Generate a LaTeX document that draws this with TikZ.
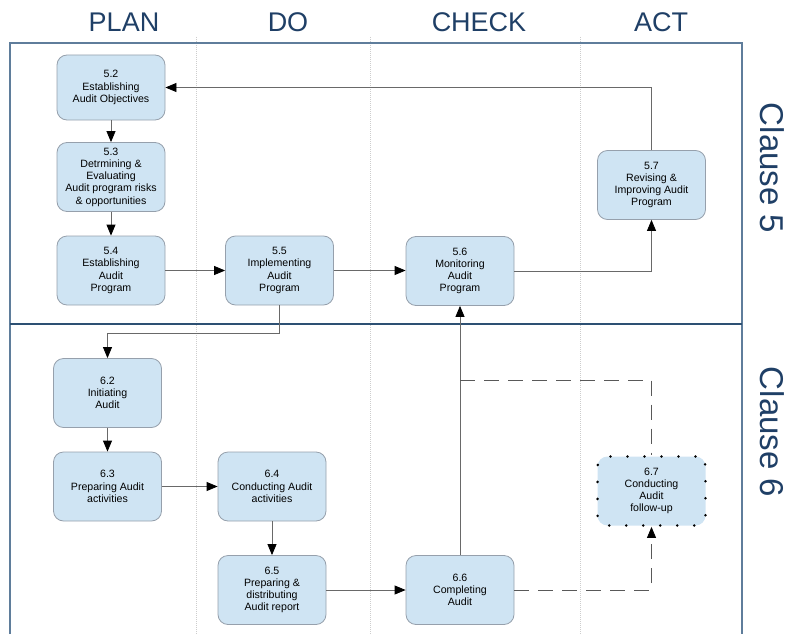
\documentclass[tikz,border=0pt]{standalone}
\usepackage{fontspec}
\setmainfont{Liberation Sans}
\usetikzlibrary{arrows.meta}
\definecolor{boxfill}{RGB}{207,228,243}
\definecolor{boxline}{RGB}{150,160,172}
\definecolor{headblue}{RGB}{31,63,102}
\definecolor{frameblue}{RGB}{95,125,155}
\definecolor{divblue}{RGB}{45,80,115}
\definecolor{lanegray}{RGB}{205,205,205}
\definecolor{wire}{RGB}{105,105,105}
\tikzset{
  stepbox/.style={rectangle, rounded corners=10pt, fill=boxfill, draw=boxline,
    line width=0.8pt, minimum width=108pt, minimum height=69pt, inner sep=0pt,
    align=center, font=\fontsize{10.6}{12.2}\selectfont},
  followbox/.style={stepbox, draw=black, line width=2.8pt, line cap=round,
    dash pattern=on 0pt off 17pt},
  lane/.style={draw=lanegray, line width=0.6pt, dash pattern=on 1pt off 1pt},
  head/.style={text=headblue, font=\fontsize{27}{30}\selectfont},
  clause/.style={text=headblue, font=\fontsize{33}{36}\selectfont, rotate=-90},
  tip/.style={-{Triangle[length=11pt,width=9pt,color=black]}},
  arr/.style={draw=wire, line width=0.8pt, tip},
  link/.style={draw=wire, line width=0.8pt},
  dsh/.style={draw=wire!85!black, line width=0.8pt, dash pattern=on 15pt off 9pt}
}
\begin{document}
\begin{tikzpicture}[x=1pt,y=-1pt]
\useasboundingbox (0,0) rectangle (789,634);
% swim-lane separators
\draw[lane] (196,37) -- (196,634);
\draw[lane] (370,37) -- (370,634);
\draw[lane] (580,37) -- (580,634);
% outer frame and clause divider
\draw[frameblue, line width=1.5pt] (10,634) -- (10,43) -- (742,43) -- (742,634);
\draw[divblue, line width=1.8pt] (10,324) -- (742,324);
% lane headings
\node[head] (hplan) at (124,22) {PLAN};
\node[head] (hdo) at (288,22) {DO};
\node[head] (hcheck) at (479,22) {CHECK};
\node[head] (hact) at (661,22) {ACT};
% clause labels
\node[clause] (c5) at (772,168) {Clause 5};
\node[clause] (c6) at (772,432) {Clause 6};
% clause 5 steps
\node[stepbox, minimum height=65pt] (s52) at (111,87.5) {5.2\\Establishing\\Audit Objectives};
\node[stepbox] (s53) at (111,177) {5.3\\Detrmining \&\\Evaluating\\Audit program risks\\\& opportunities};
\node[stepbox] (s54) at (111,270.5) {5.4\\Establishing\\Audit\\Program};
\node[stepbox] (s55) at (279.5,270.5) {5.5\\Implementing\\Audit\\Program};
\node[stepbox] (s56) at (460,271) {5.6\\Monitoring\\Audit\\Program};
\node[stepbox] (s57) at (651.5,185) {5.7\\Revising \&\\Improving Audit\\Program};
% clause 6 steps
\node[stepbox] (s62) at (107.5,393) {6.2\\Initiating\\Audit};
\node[stepbox] (s63) at (107.5,486.5) {6.3\\Preparing Audit\\activities};
\node[stepbox] (s64) at (272,486.5) {6.4\\Conducting Audit\\activities};
\node[stepbox] (s65) at (272,590) {6.5\\Preparing \&\\distributing\\Audit report};
\node[stepbox] (s66) at (460,590) {6.6\\Completing\\Audit};
\node[followbox] (s67) at (651.5,491) {6.7\\Conducting\\Audit\\follow-up};
% clause 5 flow
\draw[arr] (s57.north) |- (s52.east);
\draw[arr] (s52) -- (s53);
\draw[arr] (s53) -- (s54);
\draw[arr] (s54) -- (s55);
\draw[arr] (s55.east) -- (s55.east -| s56.west);
\draw[arr] (s56.east) -| (s57.south);
% hand-over into clause 6
\coordinate (turn) at (279.5,333);
\draw[link] (s55.south) -- (turn);
\draw[arr] (turn) -| (s62.north);
% clause 6 flow
\draw[arr] (s62) -- (s63);
\draw[arr] (s63) -- (s64);
\draw[arr] (s64) -- (s65);
\draw[arr] (s65) -- (s66);
\draw[arr] (s66) -- (s56);
% follow-up paths
\coordinate (tap) at (460,380);
\draw[dsh] (tap) -| (s67.north);
\draw[dsh, tip] (s66.east) -| (s67.south);
\end{tikzpicture}
\end{document}
